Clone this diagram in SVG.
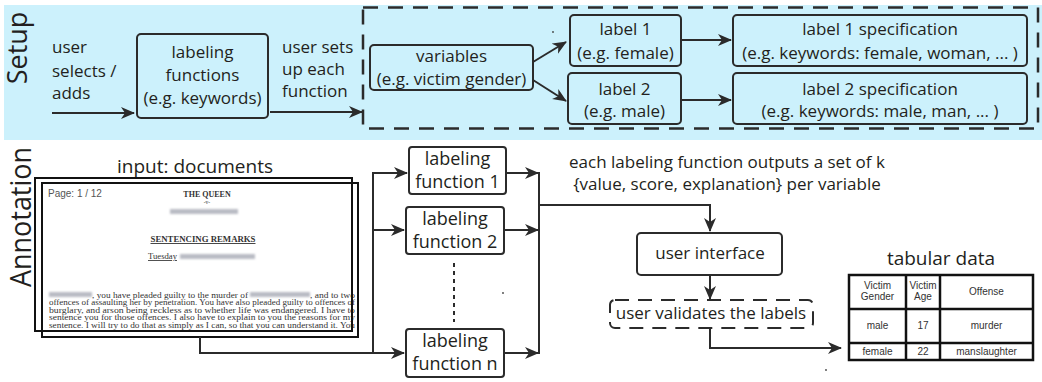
<svg xmlns="http://www.w3.org/2000/svg" width="1042" height="382" viewBox="0 0 1042 382">
<style>
.t{font-family:"Open Sans","Liberation Sans",sans-serif;font-size:17px;fill:#231f20;text-anchor:middle}
.tl{font-family:"Open Sans","Liberation Sans",sans-serif;font-size:17px;fill:#231f20}
.box{fill:none;stroke:#2b2b2b;stroke-width:2}
.wbox{fill:#fff;stroke:#2b2b2b;stroke-width:2}
.con{fill:none;stroke:#2b2b2b;stroke-width:2}
.arr{marker-end:url(#ah)}
.doc{font-family:"Liberation Serif",serif;fill:#333}
.p{font-size:7.8px}
.tab{font-family:"Liberation Sans",Arial,sans-serif;font-size:10px;fill:#333;text-anchor:middle}
.blur{fill:#b9bcc4;filter:url(#bl)}
</style>
<defs>
<marker id="ah" markerWidth="14" markerHeight="12" refX="13" refY="6" orient="auto" markerUnits="userSpaceOnUse">
<path d="M0,0 L14,6 L0,12 L4,6 z" fill="#2b2b2b"/>
</marker>
<filter id="bl" x="-20%" y="-50%" width="140%" height="200%"><feGaussianBlur stdDeviation="1.3"/></filter>
<clipPath id="dc"><rect x="42" y="183" width="316" height="149"/></clipPath>
</defs>

<rect x="4" y="5" width="1038" height="135" fill="#ccf1fc"/>
<text transform="translate(27,48) rotate(-90)" class="t" style="font-size:27px">Setup</text>
<text transform="translate(31,217) rotate(-90)" class="t" style="font-size:29px" textLength="140" lengthAdjust="spacingAndGlyphs">Annotation</text>

<g id="setup-input-label">
<text class="tl" x="52" y="53">user</text>
<text class="tl" x="52" y="77">selects /</text>
<text class="tl" x="52" y="99">adds</text>
</g>
<g id="labeling-functions">
<rect class="box" x="137" y="34" width="131" height="84" rx="4"/>
<text class="t" x="202.5" y="58">labeling</text>
<text class="t" x="202.5" y="81">functions</text>
<text class="t" x="202.5" y="104">(e.g. keywords)</text>
</g>
<g id="setup-label">
<text class="tl" x="282" y="53">user sets</text>
<text class="tl" x="282" y="75">up each</text>
<text class="tl" x="282" y="97">function</text>
</g>
<g id="setup-group">
<rect x="363" y="7.5" width="675" height="121" fill="none" stroke="#2b2b2b" stroke-width="2.5" stroke-dasharray="15,10"/>
</g>
<g id="variables">
<rect class="box" x="370" y="45" width="163" height="45" rx="4"/>
<text class="t" x="451.5" y="62">variables</text>
<text class="t" x="451.5" y="85">(e.g. victim gender)</text>
</g>
<g id="label1">
<rect class="box" x="570" y="15" width="111" height="51" rx="4"/>
<text class="t" x="625.5" y="35">label 1</text>
<text class="t" x="625.5" y="59">(e.g. female)</text>
</g>
<g id="label2">
<rect class="box" x="568" y="73" width="113" height="51" rx="4"/>
<text class="t" x="624.5" y="95">label 2</text>
<text class="t" x="624.5" y="117">(e.g. male)</text>
</g>
<g id="spec1">
<rect class="box" x="733" y="15" width="294" height="51" rx="4"/>
<text class="t" x="880" y="35">label 1 specification</text>
<text class="t" x="880" y="59">(e.g. keywords: female, woman, ... )</text>
</g>
<g id="spec2">
<rect class="box" x="733" y="73" width="294" height="51" rx="4"/>
<text class="t" x="880" y="95">label 2 specification</text>
<text class="t" x="880" y="117">(e.g. keywords: male, man, ... )</text>
</g>
<circle cx="553" cy="32" r="0.9" fill="#444"/>

<g id="documents">
<text class="t" x="195" y="173" style="font-size:19px">input: documents</text>
<rect x="42" y="183" width="316" height="154" fill="#fff" stroke="#111" stroke-width="2"/>
<g clip-path="url(#dc)">
<text x="48" y="197" style="font-family:'Liberation Sans',Arial,sans-serif;font-size:10px;fill:#555">Page: 1 / 12</text>
<text class="doc" x="207" y="197" text-anchor="middle" style="font-size:8px;font-weight:bold">THE QUEEN</text>
<text class="doc" x="207" y="204" text-anchor="middle" style="font-size:5.5px">-v-</text>
<rect class="blur" x="170" y="209" width="68" height="5"/>
<text class="doc" x="203" y="242" text-anchor="middle" textLength="105" lengthAdjust="spacingAndGlyphs" style="font-size:9px;font-weight:bold;text-decoration:underline">SENTENCING REMARKS</text>
<text class="doc" x="148" y="259" textLength="29" lengthAdjust="spacingAndGlyphs" style="font-size:8.5px;text-decoration:underline">Tuesday</text>
<rect class="blur" x="180" y="254" width="75" height="5"/>
<rect class="blur" x="49" y="292" width="43" height="5"/>
<text class="doc p" x="92" y="297.5" textLength="156" lengthAdjust="spacingAndGlyphs">, you have pleaded guilty to the murder of</text>
<rect class="blur" x="250" y="292" width="60" height="5"/>
<text class="doc p" x="310" y="297.5" textLength="45" lengthAdjust="spacingAndGlyphs">, and to two</text>
<text class="doc p" x="49" y="305" textLength="306" lengthAdjust="spacingAndGlyphs">offences of assaulting her by penetration.  You have also pleaded guilty to offences of</text>
<text class="doc p" x="49" y="312.5" textLength="306" lengthAdjust="spacingAndGlyphs">burglary, and arson being reckless as to whether life was endangered.  I have to</text>
<text class="doc p" x="49" y="320" textLength="306" lengthAdjust="spacingAndGlyphs">sentence you for those offences.  I also have to explain to you the reasons for my</text>
<text class="doc p" x="49" y="327.5" textLength="306" lengthAdjust="spacingAndGlyphs">sentence.  I will try to do that as simply as I can, so that you can understand it.  You</text>
</g>
<rect x="35" y="178" width="317" height="153" fill="none" stroke="#111" stroke-width="2"/>
</g>

<g id="lf1">
<rect class="wbox" x="409" y="147" width="97" height="47" rx="3"/>
<text class="t" x="457.5" y="165" style="font-size:18px">labeling</text>
<text class="t" x="457.5" y="188" style="font-size:18px">function 1</text>
</g>
<g id="lf2">
<rect class="wbox" x="406" y="207" width="98" height="47" rx="3"/>
<text class="t" x="455" y="225" style="font-size:18px">labeling</text>
<text class="t" x="455" y="248" style="font-size:18px">function 2</text>
</g>
<line x1="454" y1="263" x2="454" y2="322" stroke="#2b2b2b" stroke-width="2" stroke-dasharray="4,4"/>
<g id="lfn">
<rect class="wbox" x="406" y="329" width="98" height="48" rx="3"/>
<text class="t" x="455" y="347" style="font-size:18px">labeling</text>
<text class="t" x="455" y="370" style="font-size:18px">function n</text>
</g>
<circle cx="503" cy="293" r="0.9" fill="#444"/>

<g id="output-note">
<text class="t" x="727" y="168">each labeling function outputs a set of k</text>
<text class="t" x="727" y="190">{value, score, explanation} per variable</text>
</g>
<g id="user-interface">
<rect class="wbox" x="637" y="233" width="145" height="42" rx="4"/>
<text class="t" x="710" y="259">user interface</text>
</g>
<g id="user-validates">
<rect x="610" y="300" width="203" height="28" rx="5" fill="none" stroke="#2b2b2b" stroke-width="2" stroke-dasharray="14,9"/>
<text class="t" x="711" y="319">user validates the labels</text>
</g>

<g id="tabular-data">
<text class="t" x="941" y="265" style="font-size:19px">tabular data</text>
<rect x="849" y="275" width="184" height="85" fill="#fff" stroke="#111" stroke-width="2.5"/>
<line x1="906" y1="275" x2="906" y2="360" stroke="#111" stroke-width="2.5"/>
<line x1="940" y1="275" x2="940" y2="360" stroke="#111" stroke-width="2.5"/>
<line x1="849" y1="309" x2="1033" y2="309" stroke="#111" stroke-width="2.5"/>
<line x1="849" y1="343" x2="1033" y2="343" stroke="#111" stroke-width="2.5"/>
<text class="tab" x="877.5" y="289">Victim</text>
<text class="tab" x="877.5" y="300">Gender</text>
<text class="tab" x="923" y="289">Victim</text>
<text class="tab" x="923" y="300">Age</text>
<text class="tab" x="986.5" y="295">Offense</text>
<text class="tab" x="877.5" y="329">male</text>
<text class="tab" x="923" y="329">17</text>
<text class="tab" x="986.5" y="329">murder</text>
<text class="tab" x="877.5" y="355">female</text>
<text class="tab" x="923" y="355">22</text>
<text class="tab" x="986.5" y="355">manslaughter</text>
</g>
<circle cx="826" cy="370" r="0.9" fill="#444"/>

<g id="connectors">
<line class="con arr" x1="52" y1="113" x2="134" y2="113"/>
<line class="con arr" x1="270" y1="112" x2="362" y2="112"/>
<line class="con arr" x1="533" y1="62" x2="566" y2="42"/>
<line class="con arr" x1="533" y1="80" x2="566" y2="101"/>
<line class="con arr" x1="682" y1="40" x2="731" y2="40"/>
<line class="con arr" x1="682" y1="100" x2="731" y2="100"/>
<polyline class="con" points="200,337 200,353 373,353"/>
<line class="con" x1="373" y1="172" x2="373" y2="354"/>
<line class="con arr" x1="373" y1="173" x2="407" y2="173"/>
<line class="con arr" x1="373" y1="230" x2="404" y2="230"/>
<line class="con arr" x1="373" y1="353" x2="404" y2="353"/>
<line class="con arr" x1="506" y1="173" x2="538" y2="173"/>
<line class="con arr" x1="504" y1="230" x2="538" y2="230"/>
<line class="con arr" x1="504" y1="353" x2="538" y2="353"/>
<line class="con" x1="539" y1="172" x2="539" y2="354"/>
<polyline class="con arr" points="539,205 710,205 710,231"/>
<line class="con arr" x1="710" y1="275" x2="710" y2="299"/>
<polyline class="con arr" points="710,328 710,348 841,348"/>
</g>
</svg>
